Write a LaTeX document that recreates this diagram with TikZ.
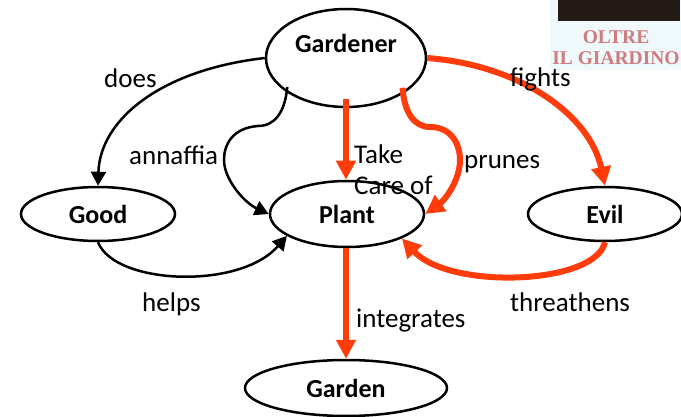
\documentclass[tikz,border=0pt]{standalone}
\usepackage{fontspec}
\setmainfont{Carlito}
\newfontfamily\logofont{Liberation Serif}
\usetikzlibrary{shapes,arrows.meta}
\definecolor{redline}{HTML}{FF3C0A}
\definecolor{logored}{HTML}{CF7C80}
\definecolor{logoback}{HTML}{EFF8FB}
\definecolor{logodark}{HTML}{241A16}
\begin{document}
\begin{tikzpicture}[x=1pt,
y=-1pt,
blackline/.style={draw=black, line width=2.5pt, -{Triangle[length=14pt, width=15pt]}},
redarrow/.style={draw=redline, line width=6pt, -{Triangle[length=19pt, width=19pt]}},
block/.style={draw, line width=2.5pt, fill=white, ellipse, inner sep=0pt, font=\fontsize{26}{26}\selectfont\bfseries},
word/.style={anchor=west, inner sep=0pt, font=\fontsize{27}{32}\selectfont}]

\useasboundingbox (0,0) rectangle (681,417);

\node[fill=logoback, minimum width=131pt, minimum height=70pt, inner sep=0pt] (back) at (615.5,35) {};
\node[fill=logodark, minimum width=122pt, minimum height=21pt, inner sep=0pt] (dark) at (619,10.5) {};
\node[text=logored, inner sep=0pt, font=\logofont\fontsize{19.5}{21}\selectfont\bfseries, align=center] (logo) at (616,48) {OLTRE\\IL GIARDINO};

\node[block, minimum width=160pt, minimum height=98pt] (gardener) at (346,58) {};
\node[anchor=center, inner sep=0pt, font=\fontsize{26}{26}\selectfont\bfseries] (gardenertext) at (346,43) {Gardener};
\node[block, minimum width=154pt, minimum height=66pt] (plant) at (347,214) {Plant};
\node[block, minimum width=154pt, minimum height=54pt] (good) at (98,214) {Good};
\node[block, minimum width=154pt, minimum height=54pt] (evil) at (605,214) {Evil};
\node[block, minimum width=202pt, minimum height=56pt] (garden) at (346,388) {Garden};

\coordinate (annaffiabend) at (258,126);
\coordinate (prunesbend) at (430,127);

\path[blackline] (gardener.west) .. controls (160,70) and (100,120) .. (good.north);
\path[blackline] ([xshift=4pt,yshift=3pt]gardener.207) .. controls (285,112) and (275,126) .. (annaffiabend)
  .. controls (232,128) and (224,145) .. (224,160) .. controls (224,180) and (245,203) .. (plant.west);
\path[blackline] (good.south) .. controls (115,285) and (240,290) .. (plant.200);
\path[redarrow] ([yshift=9pt]gardener.south) -- (plant.north -| gardener.south);
\path[redarrow] ([xshift=-5pt,yshift=3pt]gardener.332) .. controls (404,112) and (414,127) .. (prunesbend)
  .. controls (452,127) and (460,145) .. (460,160) .. controls (460,180) and (445,200) .. (plant.east);
\path[redarrow] (gardener.east) .. controls (520,65) and (590,115) .. (evil.north);
\path[redarrow] (evil.south) .. controls (595,285) and (450,290) .. (plant.336);
\path[redarrow] (plant.south -| gardener.south) -- (garden.north);

\node[word] (does) at (104,78) {does};
\node[word] (annaffia) at (129,155) {annaffia};
\node[word] (take) at (354,154) {Take};
\node[word] (careof) at (354,185) {Care of};
\node[word] (prunes) at (464,164) {prunes};
\node[word] (fights) at (510,79) {fights};
\node[word] (helps) at (142,304) {helps};
\node[word] (threathens) at (510,302) {threathens};
\node[word] (integrates) at (356,321) {integrates};

\end{tikzpicture}
\end{document}
